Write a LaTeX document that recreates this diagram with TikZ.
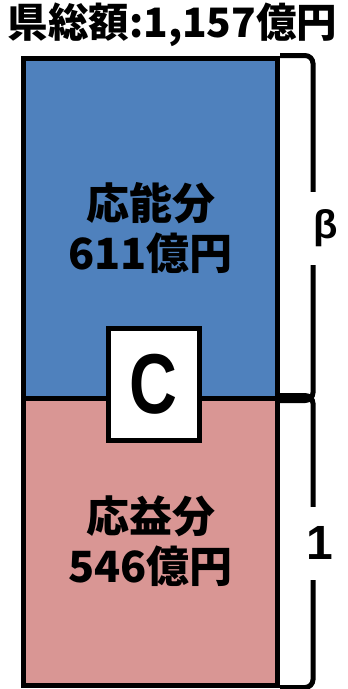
\documentclass[tikz,border=0pt]{standalone}
\usepackage{fontspec}
\usepackage{xcolor}
\newfontfamily\jpfont{Noto Sans CJK JP}
\newfontfamily\latinfont{Liberation Sans}
\definecolor{nouryokuBlue}{HTML}{4F81BD}
\definecolor{ouekiPink}{HTML}{D99694}

\begin{document}
\begin{tikzpicture}
            [x=1pt, y=-1pt,
            every node/.style={align=center, inner sep=0pt},
            part/.style={draw, line width=5pt, minimum width=254pt,
                font=\jpfont\bfseries\fontsize{43}{50}\selectfont},
            side/.style={fill=white, minimum height=73pt,
                font=\latinfont\bfseries},
            bracket/.style={line width=5pt, rounded corners=8pt}]

            \useasboundingbox (0,0) rectangle (348,689);

            \node[font=\jpfont\bfseries\fontsize{40.5}{40.5}\selectfont] (title) at (172.5,25) {県総額:1,157億円};

            \node[part, fill=nouryokuBlue, minimum height=340pt] (nouryoku) at (150.5,228) {応能分\\611億円};
            \node[part, fill=ouekiPink, minimum height=287pt] (oueki) at (150.5,541.5) {応益分\\546億円};
            \node[draw, fill=white, line width=5pt, minimum width=91pt, minimum height=112pt,
                font=\latinfont\bfseries\fontsize{85}{85}\selectfont] (c) at (153.5,384) {\scalebox{0.78}[1]{C}};

            \draw[bracket] (nouryoku.north east) -- ++(33,0) |- (nouryoku.south east);
            \draw[bracket] (oueki.north east) -- ++(33,0) |- (oueki.south east);

            \node[side, minimum width=40pt, font=\latinfont\bfseries\fontsize{40}{40}\selectfont] (beta) at (326,228) {β};
            \node[side, minimum width=30pt, font=\latinfont\bfseries\fontsize{48}{48}\selectfont] (one) at (320,543) {1};
        \end{tikzpicture}
\end{document}
